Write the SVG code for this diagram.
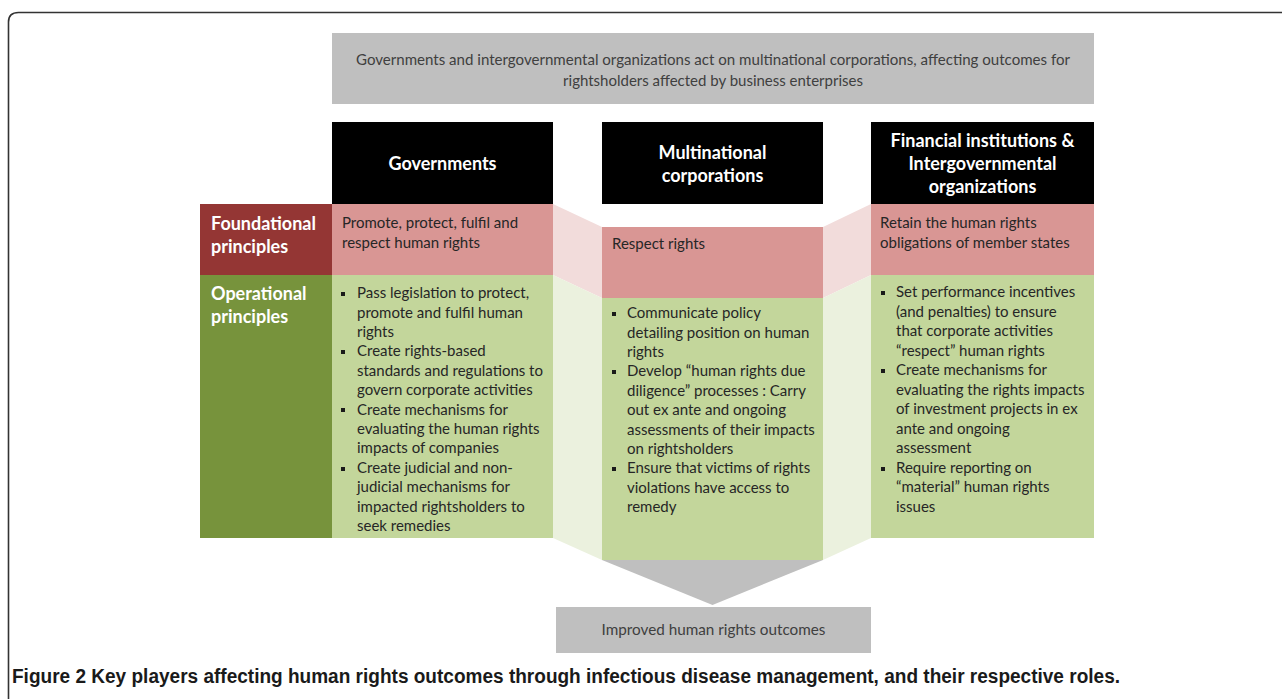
<svg xmlns="http://www.w3.org/2000/svg" width="1282" height="699" viewBox="0 0 1282 699">
<style>
.t{font-family:Lato,"Liberation Sans",sans-serif;font-size:15px;fill:#262626}
.g{font-family:Lato,"Liberation Sans",sans-serif;font-size:15px;fill:#404040}
.h{font-family:Lato,"Liberation Sans",sans-serif;font-size:18px;font-weight:bold;fill:#ffffff}
.l{font-family:Lato,"Liberation Sans",sans-serif;font-size:18px;font-weight:bold;fill:#ffffff}
.cap{font-family:"Liberation Sans",sans-serif;font-size:20px;font-weight:bold;fill:#1a1a1a}
.pk{fill:#d99694}
.gr{fill:#c3d69b}
.pkf{fill:#f2dcdb}
.grf{fill:#ebf1de}
.blk{fill:#000000}
.gy{fill:#bfbfbf}
.b{fill:#1a1a1a}
</style>
<rect width="1282" height="699" fill="#ffffff"/>
<path d="M8.5,699 V22 Q8.5,12.5 18.5,12.5 H1282" fill="none" stroke="#333333" stroke-width="1.6"/>

<g id="connectors">
<polygon class="pkf" points="553,204 602,227 602,298 553,275"/>
<polygon class="grf" points="553,275 602,298 602,560 553,538"/>
<polygon class="pkf" points="823,227 871,204 871,275 823,298"/>
<polygon class="grf" points="823,298 871,275 871,538 823,560"/>
<polygon class="gy" points="602,560 823,560 712.5,605"/>
</g>

<g id="top-box">
<rect class="gy" x="332" y="33" width="762" height="71"/>
<text class="g" x="713" y="65" text-anchor="middle" textLength="714" lengthAdjust="spacingAndGlyphs">Governments and intergovernmental organizations act on multinational corporations, affecting outcomes for</text>
<text class="g" x="713" y="86" text-anchor="middle">rightsholders affected by business enterprises</text>
</g>

<g id="label-foundational">
<rect x="200" y="204" width="132" height="71" fill="#943634"/>
<text class="l" x="211" y="230">Foundational</text>
<text class="l" x="211" y="253">principles</text>
</g>
<g id="label-operational">
<rect x="200" y="275" width="132" height="263" fill="#77933c"/>
<text class="l" x="211" y="300">Operational</text>
<text class="l" x="211" y="323">principles</text>
</g>

<g id="governments">
<rect class="blk" x="332" y="122" width="221" height="82"/>
<text class="h" x="442.5" y="170" text-anchor="middle">Governments</text>
<rect class="pk" x="332" y="204" width="221" height="71"/>
<text class="t" x="342" y="228">Promote, protect, fulfil and</text>
<text class="t" x="342" y="248">respect human rights</text>
<rect class="gr" x="332" y="275" width="221" height="263"/>
<rect class="b" x="341" y="292" width="4" height="4"/>
<rect class="b" x="341" y="350" width="4" height="4"/>
<rect class="b" x="341" y="408" width="4" height="4"/>
<rect class="b" x="341" y="467" width="4" height="4"/>
<text class="t" x="357" y="298">Pass legislation to protect,</text>
<text class="t" x="357" y="317.5">promote and fulfil human</text>
<text class="t" x="357" y="337">rights</text>
<text class="t" x="357" y="356">Create rights-based</text>
<text class="t" x="357" y="376">standards and regulations to</text>
<text class="t" x="357" y="395">govern corporate activities</text>
<text class="t" x="357" y="414.5">Create mechanisms for</text>
<text class="t" x="357" y="434">evaluating the human rights</text>
<text class="t" x="357" y="453">impacts of companies</text>
<text class="t" x="357" y="473">Create judicial and non-</text>
<text class="t" x="357" y="492">judicial mechanisms for</text>
<text class="t" x="357" y="511.5">impacted rightsholders to</text>
<text class="t" x="357" y="531">seek remedies</text>
</g>

<g id="multinational">
<rect class="blk" x="602" y="122" width="221" height="82"/>
<text class="h" x="712.5" y="159" text-anchor="middle">Multinational</text>
<text class="h" x="712.5" y="182" text-anchor="middle">corporations</text>
<rect class="pk" x="602" y="227" width="221" height="71"/>
<text class="t" x="612" y="249">Respect rights</text>
<rect class="gr" x="602" y="298" width="221" height="262"/>
<rect class="b" x="612" y="312" width="4" height="4"/>
<rect class="b" x="612" y="370" width="4" height="4"/>
<rect class="b" x="612" y="467" width="4" height="4"/>
<text class="t" x="627" y="318">Communicate policy</text>
<text class="t" x="627" y="337.5">detailing position on human</text>
<text class="t" x="627" y="357">rights</text>
<text class="t" x="627" y="376">Develop “human rights due</text>
<text class="t" x="627" y="396">diligence” processes : Carry</text>
<text class="t" x="627" y="415">out ex ante and ongoing</text>
<text class="t" x="627" y="434.5">assessments of their impacts</text>
<text class="t" x="627" y="454">on rightsholders</text>
<text class="t" x="627" y="473">Ensure that victims of rights</text>
<text class="t" x="627" y="493">violations have access to</text>
<text class="t" x="627" y="512">remedy</text>
</g>

<g id="financial">
<rect class="blk" x="871" y="122" width="223" height="82"/>
<text class="h" x="982.5" y="147" text-anchor="middle">Financial institutions &amp;</text>
<text class="h" x="982.5" y="170" text-anchor="middle">Intergovernmental</text>
<text class="h" x="982.5" y="193" text-anchor="middle">organizations</text>
<rect class="pk" x="871" y="204" width="223" height="71"/>
<text class="t" x="880" y="228">Retain the human rights</text>
<text class="t" x="880" y="248">obligations of member states</text>
<rect class="gr" x="871" y="275" width="223" height="263"/>
<rect class="b" x="881" y="291" width="4" height="4"/>
<rect class="b" x="881" y="369" width="4" height="4"/>
<rect class="b" x="881" y="467" width="4" height="4"/>
<text class="t" x="896" y="297">Set performance incentives</text>
<text class="t" x="896" y="317">(and penalties) to ensure</text>
<text class="t" x="896" y="336">that corporate activities</text>
<text class="t" x="896" y="356">“respect” human rights</text>
<text class="t" x="896" y="375">Create mechanisms for</text>
<text class="t" x="896" y="395">evaluating the rights impacts</text>
<text class="t" x="896" y="414">of investment projects in ex</text>
<text class="t" x="896" y="434">ante and ongoing</text>
<text class="t" x="896" y="453">assessment</text>
<text class="t" x="896" y="473">Require reporting on</text>
<text class="t" x="896" y="492">“material” human rights</text>
<text class="t" x="896" y="512">issues</text>
</g>

<g id="outcome">
<rect class="gy" x="556" y="607" width="315" height="46"/>
<text class="g" x="713.5" y="635" text-anchor="middle" textLength="224" lengthAdjust="spacingAndGlyphs">Improved human rights outcomes</text>
</g>

<text class="cap" x="12" y="683" textLength="1108" lengthAdjust="spacingAndGlyphs">Figure 2 Key players affecting human rights outcomes through infectious disease management, and their respective roles.</text>
</svg>
